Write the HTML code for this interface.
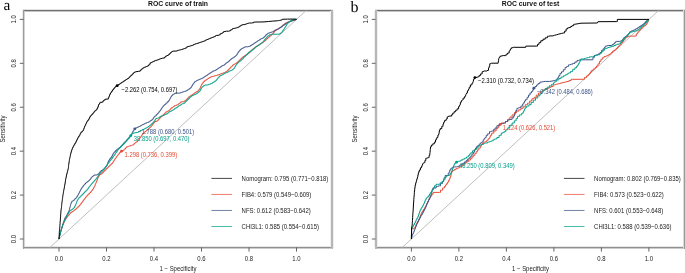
<!DOCTYPE html>
<html><head><meta charset="utf-8"><style>
html,body{margin:0;padding:0;background:#fff;}
body{width:685px;height:273px;overflow:hidden;}
svg{display:block;will-change:transform;}
.t6{font-family:"Liberation Sans",sans-serif;font-size:6.6px;fill:#222;stroke:none;}
.tb{font-family:"Liberation Sans",sans-serif;font-size:6.8px;font-weight:bold;fill:#111;}
.lab{text-rendering:geometricPrecision;font-family:"Liberation Serif",serif;font-size:15px;fill:#000;}
</style></head><body>
<svg width="685" height="273" viewBox="0 0 685 273">
<defs><clipPath id="clip0"><rect x="23.5" y="10.5" width="309.0" height="237.0"/></clipPath><clipPath id="clip352"><rect x="376.0" y="10.5" width="309.0" height="237.0"/></clipPath></defs>
<rect width="685" height="273" fill="#fff"/>
<text class="lab" x="3.6" y="10.3" style="font-size:15.3px">a</text>
<text class="lab" x="350.5" y="11.6" style="font-size:16px">b</text>
<rect x="23" y="9" width="310" height="1" fill="#e2e2e2"/>
<rect x="23" y="10" width="310" height="1" fill="#727272"/>
<rect x="24" y="11" width="308" height="1" fill="#c4c4c4"/>
<rect x="24" y="246" width="308" height="1" fill="#e6e6e6"/>
<rect x="23" y="247" width="310" height="1" fill="#909090"/>
<rect x="23" y="248" width="310" height="1" fill="#cccccc"/>
<rect x="22" y="10" width="1" height="238" fill="#ececec"/>
<rect x="23" y="10" width="1" height="239" fill="#9c9c9c"/>
<rect x="24" y="11" width="1" height="236" fill="#d4d4d4"/>
<rect x="330" y="11" width="1" height="236" fill="#f0f0f0"/>
<rect x="331" y="10" width="1" height="238" fill="#b6b6b6"/>
<rect x="332" y="10" width="1" height="239" fill="#b6b6b6"/>
<rect x="333" y="10" width="1" height="238" fill="#f0f0f0"/>
<line x1="44.75" y1="252.18" x2="310.75" y2="6.22" stroke="#BEBEBE" stroke-width="1" clip-path="url(#clip0)"/>
<polyline points="59.0,239.0 59.1,239.0 59.1,238.0 59.3,238.0 59.3,237.0 59.5,237.0 59.5,236.0 59.8,236.0 59.8,235.0 60.0,235.0 60.0,234.0 60.2,234.0 60.2,233.0 60.3,233.0 60.4,233.0 60.4,232.1 60.7,232.1 60.7,231.2 61.0,231.2 61.0,230.4 61.2,230.4 61.2,229.5 61.5,229.5 61.5,228.6 61.6,228.6 61.8,228.6 61.8,227.6 62.1,227.6 62.1,226.5 62.5,226.5 62.5,225.4 62.8,225.4 62.8,224.4 63.0,224.4 63.3,224.4 63.3,223.4 63.8,223.4 63.8,222.4 64.3,222.4 64.3,221.3 64.8,221.3 64.8,220.3 65.1,220.3 65.4,220.3 65.4,219.3 66.0,219.3 66.0,218.3 66.7,218.3 66.7,217.3 67.0,217.3 67.3,217.3 67.3,216.5 68.0,216.5 68.0,215.6 68.7,215.6 68.7,214.8 69.0,214.8 69.4,214.8 69.4,214.0 70.1,214.0 70.1,213.2 70.8,213.2 70.8,212.4 71.2,212.4 71.8,212.4 71.8,211.7 72.9,211.7 72.9,211.0 73.4,211.0 74.0,211.0 74.0,210.2 75.0,210.2 75.0,209.5 75.6,209.5 76.1,209.5 76.1,208.4 77.2,208.4 77.2,207.3 77.8,207.3 78.3,207.3 78.3,206.2 79.5,206.2 79.5,205.1 80.0,205.1 80.4,205.1 80.4,204.1 81.1,204.1 81.1,203.2 81.8,203.2 81.8,202.2 82.2,202.2 82.6,202.2 82.6,201.2 83.3,201.2 83.3,200.2 84.0,200.2 84.0,199.2 84.4,199.2 84.8,199.2 84.8,198.2 85.5,198.2 85.5,197.3 86.2,197.3 86.2,196.3 86.6,196.3 87.1,196.3 87.1,195.2 88.2,195.2 88.2,194.1 88.8,194.1 89.3,194.1 89.3,193.0 90.5,193.0 90.5,191.9 91.0,191.9 91.4,191.9 91.4,190.9 92.1,190.9 92.1,190.0 92.8,190.0 92.8,189.0 93.2,189.0 93.4,189.0 93.4,188.1 93.9,188.1 93.9,187.2 94.3,187.2 94.3,186.4 94.8,186.4 94.8,185.5 95.0,185.5 95.2,185.5 95.2,184.6 95.5,184.6 95.5,183.7 95.9,183.7 95.9,182.7 96.3,182.7 96.3,181.8 96.6,181.8 96.6,180.9 96.8,180.9 97.0,180.9 97.0,180.0 97.4,180.0 97.4,179.1 97.7,179.1 97.7,178.1 98.1,178.1 98.1,177.2 98.3,177.2 98.7,177.2 98.7,176.1 99.3,176.1 99.3,175.0 99.7,175.0 100.2,175.0 100.2,174.3 101.4,174.3 101.4,173.6 101.9,173.6 102.5,173.6 102.5,172.5 103.5,172.5 103.5,171.4 104.1,171.4 104.6,171.4 104.6,170.3 105.8,170.3 105.8,169.2 106.3,169.2 106.8,169.2 106.8,168.1 108.0,168.1 108.0,167.0 108.5,167.0 109.0,167.0 109.0,165.9 110.2,165.9 110.2,164.8 110.7,164.8 111.2,164.8 111.2,163.7 112.4,163.7 112.4,162.6 112.9,162.6 113.2,162.6 113.2,161.6 113.8,161.6 113.8,160.5 114.4,160.5 114.4,159.5 114.7,159.5 115.0,159.5 115.0,158.6 115.8,158.6 115.8,157.6 116.1,157.6 116.4,157.6 116.4,156.6 117.2,156.6 117.2,155.6 117.5,155.6 117.8,155.6 117.8,154.7 118.6,154.7 118.6,153.8 118.9,153.8 119.6,153.8 119.6,152.4 120.2,152.4 120.9,152.4 120.9,151.3 121.6,151.3 122.3,151.3 122.3,150.6 123.0,150.6 123.7,150.6 123.7,149.7 124.4,149.7 124.7,149.7 124.7,148.8 125.4,148.8 125.4,147.8 125.7,147.8 126.4,147.8 126.4,146.9 127.1,146.9 127.8,146.9 127.8,146.4 128.5,146.4 129.9,146.0 130.6,146.0 130.6,145.5 131.2,145.5 132.6,145.1 133.3,145.1 133.3,144.2 134.0,144.2 134.3,144.2 134.3,143.4 135.1,143.4 135.1,142.6 135.4,142.6 136.1,142.6 136.1,141.8 136.8,141.8 137.5,141.8 137.5,140.6 138.2,140.6 138.5,140.6 138.5,139.6 139.2,139.6 139.2,138.6 139.5,138.6 139.8,138.6 139.8,137.7 140.5,137.7 140.5,136.8 140.8,136.8 141.2,136.8 141.2,135.8 141.8,135.8 141.8,134.8 142.2,134.8 142.5,134.8 142.5,134.0 143.2,134.0 143.2,133.2 143.6,133.2 144.2,133.2 144.2,132.0 144.9,132.0 145.3,132.0 145.3,131.4 146.0,131.4 146.0,130.8 146.4,130.8 147.1,130.8 147.1,129.8 147.8,129.8 148.2,129.8 148.2,129.0 148.9,129.0 148.9,128.2 149.3,128.2 149.7,128.2 149.7,127.5 150.4,127.5 150.4,126.8 150.8,126.8 151.2,126.8 151.2,126.0 151.9,126.0 151.9,125.2 152.3,125.2 152.6,125.2 152.6,124.3 153.3,124.3 153.3,123.5 153.6,123.5 153.9,123.5 153.9,122.5 154.7,122.5 154.7,121.5 155.0,121.5 156.0,121.5 156.7,121.5 156.7,120.8 157.4,120.8 158.1,120.8 158.1,119.5 158.7,119.5 159.2,119.5 159.2,118.2 159.7,118.2 160.3,118.2 160.3,116.9 161.0,116.9 161.7,116.9 161.7,115.8 162.4,115.8 163.1,115.8 163.1,114.4 163.8,114.4 164.4,114.4 164.4,113.2 165.1,113.2 165.8,113.2 165.8,111.8 166.5,111.8 167.2,111.8 167.2,111.2 167.9,111.2 168.6,111.2 168.6,110.5 169.3,110.5 169.7,110.5 169.7,109.5 170.6,109.5 170.6,108.4 171.0,108.4 171.6,108.4 171.6,107.7 172.6,107.7 172.6,107.0 173.2,107.0 173.8,107.0 173.8,106.2 174.8,106.2 174.8,105.5 175.4,105.5 175.9,105.5 175.9,105.2 177.1,105.2 177.1,104.8 177.6,104.8 178.2,104.8 178.2,104.0 179.2,104.0 179.2,103.3 179.8,103.3 180.2,103.3 180.2,102.5 180.8,102.5 180.8,101.8 181.2,101.8 183.4,101.8 183.9,101.8 183.9,101.1 185.1,101.1 185.1,100.4 185.6,100.4 186.0,100.4 186.0,99.7 186.7,99.7 186.7,98.9 187.1,98.9 187.7,98.9 187.7,97.8 188.8,97.8 188.8,96.7 189.3,96.7 189.9,96.7 189.9,96.0 190.9,96.0 190.9,95.3 191.5,95.3 192.1,95.3 192.1,94.5 193.1,94.5 193.1,93.8 193.7,93.8 194.2,93.8 194.2,93.0 195.3,93.0 195.3,92.3 195.9,92.3 196.4,92.3 196.4,91.6 197.6,91.6 197.6,90.9 198.1,90.9 198.4,90.9 198.4,90.1 199.1,90.1 199.1,89.3 199.7,89.3 199.7,88.5 200.0,88.5 200.2,88.5 200.2,87.6 200.6,87.6 200.6,86.8 200.9,86.8 200.9,85.9 201.3,85.9 201.3,85.0 201.5,85.0 201.8,85.0 201.8,83.9 202.6,83.9 202.6,82.8 202.9,82.8 203.4,82.8 203.4,81.7 204.6,81.7 204.6,80.6 205.1,80.6 205.7,80.6 205.7,79.9 206.8,79.9 206.8,79.2 207.3,79.2 207.9,79.2 207.9,78.5 208.9,78.5 208.9,77.7 209.5,77.7 210.1,77.7 210.1,77.2 211.1,77.2 211.1,76.7 211.7,76.7 212.2,76.7 212.2,76.5 213.3,76.5 213.3,76.2 213.9,76.2 214.4,76.2 214.4,75.8 215.6,75.8 215.6,75.5 216.1,75.5 216.7,75.5 216.7,75.2 217.8,75.2 217.8,74.8 218.3,74.8 218.9,74.8 218.9,74.4 219.9,74.4 219.9,74.0 220.5,74.0 221.1,74.0 221.1,73.7 222.1,73.7 222.1,73.3 222.7,73.3 223.2,73.3 223.2,72.9 224.3,72.9 224.3,72.6 224.9,72.6 225.4,72.6 225.4,71.8 226.6,71.8 226.6,71.1 227.1,71.1 227.7,71.1 227.7,70.0 228.8,70.0 228.8,68.9 229.3,68.9 229.9,68.9 229.9,67.8 230.9,67.8 230.9,66.7 231.5,66.7 232.1,66.7 232.1,65.6 233.1,65.6 233.1,64.5 233.7,64.5 234.3,64.5 234.3,64.0 235.4,64.0 235.4,63.5 236.0,63.5 236.6,63.5 236.6,62.6 237.6,62.6 237.6,61.7 238.2,61.7 238.8,61.7 238.8,60.6 239.8,60.6 239.8,59.5 240.4,59.5 240.9,59.5 240.9,58.4 242.1,58.4 242.1,57.3 242.6,57.3 243.2,57.3 243.2,56.5 244.2,56.5 244.2,55.8 244.8,55.8 245.4,55.8 245.4,55.1 246.4,55.1 246.4,54.4 247.0,54.4 247.6,54.4 247.6,53.6 248.6,53.6 248.6,52.9 249.2,52.9 249.8,52.9 249.8,51.8 250.8,51.8 250.8,50.7 251.4,50.7 251.9,50.7 251.9,49.6 253.1,49.6 253.1,48.5 253.6,48.5 254.2,48.5 254.2,47.8 255.2,47.8 255.2,47.0 255.8,47.0 256.4,47.0 256.4,46.3 257.4,46.3 257.4,45.6 258.0,45.6 258.6,45.6 258.6,44.9 259.6,44.9 259.6,44.1 260.2,44.1 260.8,44.1 260.8,43.4 261.8,43.4 261.8,42.7 262.4,42.7 262.9,42.7 262.9,42.0 263.8,42.0 263.8,41.4 264.3,41.4 264.8,41.4 264.8,40.4 265.9,40.4 265.9,39.4 266.4,39.4 266.9,39.4 266.9,38.5 268.1,38.5 268.1,37.5 268.6,37.5 269.2,37.5 269.2,36.5 270.2,36.5 270.2,35.6 270.8,35.6 271.3,35.6 271.3,34.7 272.3,34.7 272.3,33.8 272.8,33.8 273.2,33.8 273.2,32.9 273.9,32.9 273.9,31.9 274.6,31.9 274.6,31.0 275.0,31.0 275.6,31.0 275.6,30.3 276.6,30.3 276.6,29.6 277.2,29.6 277.8,29.6 277.8,28.9 278.8,28.9 278.8,28.1 279.4,28.1 279.9,28.1 279.9,27.4 281.1,27.4 281.1,26.7 281.6,26.7 282.2,26.7 282.2,25.6 283.2,25.6 283.2,24.5 283.8,24.5 284.4,24.5 284.4,23.8 285.4,23.8 285.4,23.0 286.0,23.0 286.6,23.0 286.6,22.5 287.6,22.5 287.6,22.0 288.2,22.0 288.8,22.0 288.8,21.6 289.8,21.6 289.8,21.1 290.4,21.1 290.9,21.1 290.9,20.8 292.1,20.8 292.1,20.5 292.6,20.5 294.8,20.1 295.2,20.1 295.2,19.8 296.1,19.8 296.1,19.4 296.5,19.4" fill="none" stroke="#E64B35" stroke-width="1.0" stroke-linejoin="round" clip-path="url(#clip0)"/>
<polyline points="59.0,239.0 59.1,239.0 59.1,238.0 59.3,238.0 59.3,237.0 59.5,237.0 59.5,236.0 59.8,236.0 59.8,235.0 60.0,235.0 60.0,234.0 60.2,234.0 60.2,233.0 60.3,233.0 60.4,233.0 60.4,232.1 60.7,232.1 60.7,231.2 61.0,231.2 61.0,230.4 61.2,230.4 61.2,229.5 61.5,229.5 61.5,228.6 61.6,228.6 61.8,228.6 61.8,227.6 62.1,227.6 62.1,226.6 62.4,226.6 62.4,225.6 62.7,225.6 62.7,224.7 63.0,224.7 63.0,223.7 63.2,223.7 63.2,222.7 63.6,222.7 63.6,221.7 63.7,221.7 63.9,221.7 63.9,220.7 64.2,220.7 64.2,219.8 64.6,219.8 64.6,218.8 64.9,218.8 64.9,217.8 65.1,217.8 65.4,217.8 65.4,217.1 66.0,217.1 66.0,216.3 66.3,216.3 66.5,216.3 66.5,215.5 66.9,215.5 66.9,214.7 67.3,214.7 67.3,213.9 67.5,213.9 67.8,213.9 67.8,212.9 68.2,212.9 68.2,212.0 68.8,212.0 68.8,211.0 69.0,211.0 69.1,211.0 69.1,210.1 69.4,210.1 69.4,209.2 69.6,209.2 69.6,208.2 69.9,208.2 69.9,207.3 70.0,207.3 70.1,207.3 70.1,206.4 70.3,206.4 70.3,205.4 70.6,205.4 70.6,204.5 70.8,204.5 70.8,203.6 70.9,203.6 71.2,203.6 71.2,202.5 71.7,202.5 71.7,201.4 71.9,201.4 72.3,201.4 72.3,201.1 73.0,201.1 73.0,200.7 73.4,200.7 73.8,200.7 73.8,199.9 74.5,199.9 74.5,199.2 74.8,199.2 75.2,199.2 75.2,198.5 75.9,198.5 75.9,197.8 76.3,197.8 76.7,197.8 76.7,196.7 77.4,196.7 77.4,195.6 77.8,195.6 78.0,195.6 78.0,194.6 78.5,194.6 78.5,193.7 79.0,193.7 79.0,192.7 79.2,192.7 79.5,192.7 79.5,191.7 80.0,191.7 80.0,190.7 80.5,190.7 80.5,189.7 80.7,189.7 81.1,189.7 81.1,188.6 81.8,188.6 81.8,187.5 82.2,187.5 82.6,187.5 82.6,186.5 83.3,186.5 83.3,185.6 84.0,185.6 84.0,184.6 84.4,184.6 85.0,184.6 85.0,183.5 86.0,183.5 86.0,182.4 86.6,182.4 87.1,182.4 87.1,181.7 88.2,181.7 88.2,180.9 88.8,180.9 89.2,180.9 89.2,180.2 89.8,180.2 89.8,179.4 90.2,179.4 90.6,179.4 90.6,178.4 91.3,178.4 91.3,177.5 92.0,177.5 92.0,176.5 92.4,176.5 93.0,176.5 93.0,175.8 94.0,175.8 94.0,175.0 94.6,175.0 96.8,175.0 97.3,175.0 97.3,174.3 98.5,174.3 98.5,173.6 99.0,173.6 99.4,173.6 99.4,172.5 100.1,172.5 100.1,171.4 100.5,171.4 101.0,171.4 101.0,170.7 102.2,170.7 102.2,169.9 102.7,169.9 103.2,169.9 103.2,169.2 104.3,169.2 104.3,168.4 104.8,168.4 105.2,168.4 105.2,167.4 105.9,167.4 105.9,166.5 106.6,166.5 106.6,165.5 107.0,165.5 107.2,165.5 107.2,164.6 107.5,164.6 107.5,163.7 107.8,163.7 107.8,162.9 108.0,162.9 108.0,162.0 108.3,162.0 108.3,161.1 108.5,161.1 108.9,161.1 108.9,160.0 109.6,160.0 109.6,158.9 110.0,158.9 110.4,158.9 110.4,157.9 111.1,157.9 111.1,157.0 111.8,157.0 111.8,156.0 112.2,156.0 112.4,156.0 112.4,155.1 112.8,155.1 112.8,154.2 113.2,154.2 113.2,153.3 113.4,153.3 114.1,153.3 114.1,151.9 114.7,151.9 115.4,151.9 115.4,150.6 116.1,150.6 116.8,150.6 116.8,149.2 117.5,149.2 118.2,149.2 118.2,148.3 118.9,148.3 119.6,148.3 119.6,147.4 120.2,147.4 120.9,147.4 120.9,146.0 121.6,146.0 121.9,146.0 121.9,145.1 122.7,145.1 122.7,144.2 123.0,144.2 123.7,144.2 123.7,142.8 124.4,142.8 125.1,142.8 125.1,141.4 125.7,141.4 126.4,141.4 126.4,140.0 127.1,140.0 127.4,140.0 127.4,139.1 128.2,139.1 128.2,138.2 128.5,138.2 129.2,138.2 129.2,136.8 129.9,136.8 130.6,136.8 130.6,135.5 131.2,135.5 131.4,135.5 131.4,134.5 131.9,134.5 131.9,133.4 132.3,133.4 132.3,132.4 132.8,132.4 132.8,131.4 133.0,131.4 133.3,131.4 133.3,130.5 133.9,130.5 133.9,129.6 134.5,129.6 134.5,128.7 134.8,128.7 135.3,128.7 135.3,128.2 136.2,128.2 136.2,127.8 136.7,127.8 137.1,127.8 137.1,127.3 138.1,127.3 138.1,126.9 138.5,126.9 138.9,126.9 138.9,126.5 139.9,126.5 139.9,126.0 140.3,126.0 140.8,126.0 140.8,125.5 141.7,125.5 141.7,125.0 142.2,125.0 142.6,125.0 142.6,124.5 143.6,124.5 143.6,124.1 144.0,124.1 144.4,124.1 144.4,123.7 145.4,123.7 145.4,123.2 145.8,123.2 146.3,123.2 146.3,122.8 147.2,122.8 147.2,122.5 147.7,122.5 148.1,122.5 148.1,122.2 148.9,122.2 148.9,121.8 149.3,121.8 149.7,121.8 149.7,121.2 150.5,121.2 150.5,120.5 150.9,120.5 151.6,120.5 151.6,119.8 152.2,119.8 152.7,119.8 152.7,118.8 153.2,118.8 153.4,118.8 153.4,117.8 153.9,117.8 153.9,116.9 154.2,116.9 154.8,116.9 154.8,116.0 155.5,116.0 156.2,116.0 156.2,114.7 156.9,114.7 157.2,114.7 157.2,113.8 158.0,113.8 158.0,112.8 158.3,112.8 159.0,112.8 159.0,111.4 159.7,111.4 160.0,111.4 160.0,110.5 160.7,110.5 160.7,109.6 161.0,109.6 161.3,109.6 161.3,108.4 162.1,108.4 162.1,107.3 162.4,107.3 162.8,107.3 162.8,106.4 163.5,106.4 163.5,105.5 163.8,105.5 164.4,105.5 164.4,104.6 165.1,104.6 165.8,104.6 165.8,103.2 166.5,103.2 167.2,103.2 167.2,101.8 167.9,101.8 168.6,101.8 168.6,100.5 169.3,100.5 169.5,100.5 169.5,99.5 169.9,99.5 169.9,98.6 170.4,98.6 170.4,97.7 170.8,97.7 170.8,96.7 171.0,96.7 171.6,96.7 171.6,95.6 172.6,95.6 172.6,94.5 173.2,94.5 173.8,94.5 173.8,93.8 174.8,93.8 174.8,93.1 175.4,93.1 179.8,93.1 180.4,93.1 180.4,92.7 181.4,92.7 181.4,92.3 182.0,92.3 182.6,92.3 182.6,91.9 183.6,91.9 183.6,91.6 184.2,91.6 184.8,91.6 184.8,91.2 185.8,91.2 185.8,90.9 186.4,90.9 186.9,90.9 186.9,90.2 188.1,90.2 188.1,89.4 188.6,89.4 189.2,89.4 189.2,88.7 190.2,88.7 190.2,87.9 190.8,87.9 191.2,87.9 191.2,86.8 191.8,86.8 191.8,85.7 192.2,85.7 192.5,85.7 192.5,84.6 193.2,84.6 193.2,83.5 193.6,83.5 194.0,83.5 194.0,82.5 194.8,82.5 194.8,81.5 195.2,81.5 195.8,81.5 195.8,81.0 196.8,81.0 196.8,80.4 197.4,80.4 197.8,80.4 197.8,80.0 198.7,80.0 198.7,79.6 199.6,79.6 199.6,79.2 200.0,79.2 200.6,79.2 200.6,78.8 201.6,78.8 201.6,78.4 202.2,78.4 202.8,78.4 202.8,77.7 203.8,77.7 203.8,77.0 204.4,77.0 204.9,77.0 204.9,76.2 206.1,76.2 206.1,75.5 206.6,75.5 207.2,75.5 207.2,74.8 208.2,74.8 208.2,74.0 208.8,74.0 209.4,74.0 209.4,73.3 210.4,73.3 210.4,72.6 211.0,72.6 211.6,72.6 211.6,71.8 212.6,71.8 212.6,71.1 213.2,71.1 213.8,71.1 213.8,70.8 214.8,70.8 214.8,70.4 215.4,70.4 215.9,70.4 215.9,69.7 217.1,69.7 217.1,68.9 217.6,68.9 218.2,68.9 218.2,68.2 219.2,68.2 219.2,67.5 219.8,67.5 220.4,67.5 220.4,66.8 221.4,66.8 221.4,66.0 222.0,66.0 222.6,66.0 222.6,65.5 223.6,65.5 223.6,65.0 224.2,65.0 224.8,65.0 224.8,64.0 225.8,64.0 225.8,63.1 226.4,63.1 226.9,63.1 226.9,62.4 228.1,62.4 228.1,61.6 228.6,61.6 229.2,61.6 229.2,60.5 230.2,60.5 230.2,59.4 230.8,59.4 231.4,59.4 231.4,58.6 232.4,58.6 232.4,57.9 233.0,57.9 233.6,57.9 233.6,57.2 234.6,57.2 234.6,56.5 235.2,56.5 235.5,56.5 235.5,55.8 236.2,55.8 236.2,55.0 236.6,55.0 237.1,55.0 237.1,53.6 237.5,53.6 237.8,53.6 237.8,52.5 238.6,52.5 238.6,51.4 238.9,51.4 239.4,51.4 239.4,50.3 240.6,50.3 240.6,49.2 241.1,49.2 241.7,49.2 241.7,48.5 242.8,48.5 242.8,47.8 243.3,47.8 243.9,47.8 243.9,47.3 244.9,47.3 244.9,46.8 245.5,46.8 247.7,46.8 248.2,46.8 248.2,46.5 249.3,46.5 249.3,46.3 249.9,46.3 250.4,46.3 250.4,45.5 251.6,45.5 251.6,44.8 252.1,44.8 252.7,44.8 252.7,44.1 253.8,44.1 253.8,43.4 254.3,43.4 254.9,43.4 254.9,42.6 255.9,42.6 255.9,41.9 256.5,41.9 257.1,41.9 257.1,41.2 258.1,41.2 258.1,40.5 258.7,40.5 259.2,40.5 259.2,39.8 260.3,39.8 260.3,39.0 260.9,39.0 261.4,39.0 261.4,38.5 262.6,38.5 262.6,38.0 263.1,38.0 263.7,38.0 263.7,37.0 264.8,37.0 264.8,36.0 265.3,36.0 265.8,36.0 265.8,34.7 266.2,34.7 266.8,34.7 266.8,34.0 267.8,34.0 267.8,33.2 268.4,33.2 268.9,33.2 268.9,32.9 270.1,32.9 270.1,32.5 270.6,32.5 271.2,32.5 271.2,32.1 272.2,32.1 272.2,31.8 272.8,31.8 273.4,31.8 273.4,31.1 274.4,31.1 274.4,30.3 275.0,30.3 275.6,30.3 275.6,29.8 276.6,29.8 276.6,29.3 277.2,29.3 277.8,29.3 277.8,28.9 278.8,28.9 278.8,28.4 279.4,28.4 279.9,28.4 279.9,27.5 281.1,27.5 281.1,26.7 281.6,26.7 282.2,26.7 282.2,25.9 283.2,25.9 283.2,25.2 283.8,25.2 284.4,25.2 284.4,24.4 285.4,24.4 285.4,23.7 286.0,23.7 286.6,23.7 286.6,23.0 287.6,23.0 287.6,22.3 288.2,22.3 288.8,22.3 288.8,21.9 289.8,21.9 289.8,21.5 290.4,21.5 290.9,21.5 290.9,21.1 292.1,21.1 292.1,20.8 292.6,20.8 293.2,20.8 293.2,20.5 294.2,20.5 294.2,20.1 294.8,20.1 295.2,20.1 295.2,19.8 296.1,19.8 296.1,19.4 296.5,19.4" fill="none" stroke="#3C5488" stroke-width="1.0" stroke-linejoin="round" clip-path="url(#clip0)"/>
<polyline points="59.0,239.0 59.1,239.0 59.1,238.0 59.3,238.0 59.3,237.0 59.5,237.0 59.5,236.0 59.8,236.0 59.8,235.0 60.0,235.0 60.0,234.0 60.2,234.0 60.2,233.0 60.3,233.0 60.4,233.0 60.4,232.1 60.7,232.1 60.7,231.2 61.0,231.2 61.0,230.4 61.2,230.4 61.2,229.5 61.5,229.5 61.5,228.6 61.6,228.6 61.8,228.6 61.8,227.6 62.1,227.6 62.1,226.5 62.5,226.5 62.5,225.5 62.8,225.5 62.8,224.5 63.2,224.5 63.2,223.4 63.5,223.4 63.5,222.4 63.7,222.4 64.0,222.4 64.0,221.3 64.5,221.3 64.5,220.3 65.0,220.3 65.0,219.2 65.5,219.2 65.5,218.2 65.8,218.2 66.0,218.2 66.0,217.3 66.4,217.3 66.4,216.5 66.9,216.5 66.9,215.7 67.3,215.7 67.3,214.8 67.5,214.8 67.8,214.8 67.8,213.9 68.3,213.9 68.3,213.0 68.9,213.0 68.9,212.1 69.4,212.1 69.4,211.2 69.7,211.2 70.2,211.2 70.2,210.3 71.4,210.3 71.4,209.5 71.9,209.5 72.5,209.5 72.5,208.8 73.5,208.8 73.5,208.0 74.1,208.0 74.3,208.0 74.3,207.0 74.8,207.0 74.8,206.1 75.3,206.1 75.3,205.1 75.6,205.1 75.8,205.1 75.8,204.2 76.1,204.2 76.1,203.2 76.5,203.2 76.5,202.3 76.8,202.3 76.8,201.4 77.0,201.4 77.2,201.4 77.2,200.4 77.8,200.4 77.8,199.5 78.2,199.5 78.2,198.5 78.5,198.5 79.0,198.5 79.0,197.4 80.2,197.4 80.2,196.3 80.7,196.3 81.2,196.3 81.2,195.2 82.4,195.2 82.4,194.1 82.9,194.1 83.5,194.1 83.5,193.0 84.5,193.0 84.5,191.9 85.1,191.9 85.6,191.9 85.6,190.8 86.8,190.8 86.8,189.7 87.3,189.7 87.7,189.7 87.7,188.7 88.4,188.7 88.4,187.6 89.1,187.6 89.1,186.6 89.5,186.6 89.8,186.6 89.8,185.8 90.5,185.8 90.5,185.0 91.2,185.0 91.2,184.2 91.5,184.2 91.8,184.2 91.8,183.4 92.5,183.4 92.5,182.6 93.2,182.6 93.2,181.8 93.5,181.8 94.0,181.8 94.0,180.7 95.0,180.7 95.0,179.6 95.5,179.6 95.8,179.6 95.8,178.8 96.5,178.8 96.5,178.0 97.2,178.0 97.2,177.2 97.5,177.2 97.8,177.2 97.8,176.4 98.2,176.4 98.2,175.6 98.8,175.6 98.8,174.8 99.0,174.8 99.4,174.8 99.4,174.0 100.1,174.0 100.1,173.1 100.8,173.1 100.8,172.3 101.2,172.3 101.6,172.3 101.6,171.5 102.3,171.5 102.3,170.7 103.0,170.7 103.0,169.9 103.4,169.9 103.8,169.9 103.8,168.9 104.5,168.9 104.5,168.0 105.2,168.0 105.2,167.0 105.6,167.0 106.0,167.0 106.0,165.9 106.7,165.9 106.7,164.9 107.4,164.9 107.4,163.8 107.8,163.8 108.2,163.8 108.2,162.9 108.9,162.9 108.9,162.0 109.6,162.0 109.6,161.1 110.0,161.1 110.3,161.1 110.3,160.2 111.0,160.2 111.0,159.3 111.7,159.3 111.7,158.4 112.0,158.4 112.5,158.4 112.5,157.2 113.3,157.2 113.3,156.1 113.8,156.1 114.1,156.1 114.1,155.2 114.8,155.2 114.8,154.2 115.4,154.2 115.4,153.3 115.7,153.3 116.0,153.3 116.0,152.4 116.7,152.4 116.7,151.5 117.0,151.5 117.3,151.5 117.3,150.3 118.1,150.3 118.1,149.2 118.4,149.2 119.1,149.2 119.1,147.8 119.8,147.8 120.5,147.8 120.5,146.4 121.2,146.4 121.8,146.4 121.8,145.1 122.5,145.1 123.2,145.1 123.2,143.7 123.9,143.7 124.6,143.7 124.6,142.3 125.3,142.3 125.7,142.3 125.7,141.4 126.3,141.4 126.3,140.5 126.7,140.5 127.3,140.5 127.3,139.1 128.0,139.1 128.7,139.1 128.7,137.7 129.4,137.7 129.7,137.7 129.7,136.6 130.3,136.6 130.3,135.4 130.6,135.4 131.1,135.4 131.1,134.4 132.0,134.4 132.0,133.4 132.5,133.4 133.1,133.4 133.1,133.1 134.2,133.1 134.2,132.8 134.8,132.8 137.6,132.4 138.1,132.4 138.1,131.9 138.9,131.9 138.9,131.4 139.4,131.4 140.1,131.4 140.1,130.5 140.8,130.5 142.2,130.1 142.6,130.1 142.6,129.6 143.6,129.6 143.6,129.2 144.0,129.2 144.4,129.2 144.4,128.7 145.4,128.7 145.4,128.2 145.8,128.2 146.3,128.2 146.3,127.8 147.2,127.8 147.2,127.3 147.7,127.3 148.1,127.3 148.1,126.5 149.1,126.5 149.1,125.8 149.5,125.8 149.9,125.8 149.9,125.1 150.9,125.1 150.9,124.4 151.3,124.4 151.8,124.4 151.8,123.5 152.7,123.5 152.7,122.6 153.1,122.6 153.8,122.6 153.8,121.2 154.5,121.2 154.8,121.2 154.8,120.3 155.2,120.3 155.2,119.4 155.8,119.4 155.8,118.5 156.0,118.5 157.4,118.3 158.7,117.9 159.4,117.9 159.4,116.9 160.1,116.9 160.8,116.9 160.8,116.0 161.5,116.0 162.9,115.6 163.6,115.6 163.6,115.1 164.2,115.1 164.9,115.1 164.9,114.5 165.6,114.5 166.3,114.5 166.3,113.8 167.0,113.8 167.7,113.8 167.7,112.8 168.4,112.8 169.1,112.8 169.1,111.6 169.7,111.6 171.0,111.2 171.6,111.2 171.6,110.6 172.6,110.6 172.6,109.9 173.2,109.9 173.8,109.9 173.8,109.2 174.8,109.2 174.8,108.4 175.4,108.4 175.9,108.4 175.9,107.7 177.1,107.7 177.1,107.0 177.6,107.0 178.2,107.0 178.2,106.2 179.2,106.2 179.2,105.5 179.8,105.5 180.4,105.5 180.4,104.8 181.4,104.8 181.4,104.0 182.0,104.0 182.6,104.0 182.6,103.7 183.6,103.7 183.6,103.3 184.2,103.3 184.8,103.3 184.8,102.2 185.8,102.2 185.8,101.1 186.4,101.1 186.9,101.1 186.9,100.0 188.1,100.0 188.1,98.9 188.6,98.9 189.2,98.9 189.2,97.8 190.2,97.8 190.2,96.7 190.8,96.7 191.4,96.7 191.4,96.0 192.4,96.0 192.4,95.3 193.0,95.3 193.6,95.3 193.6,94.9 194.6,94.9 194.6,94.5 195.2,94.5 195.8,94.5 195.8,93.8 196.8,93.8 196.8,93.1 197.4,93.1 197.8,93.1 197.8,92.4 198.7,92.4 198.7,91.7 199.6,91.7 199.6,91.0 200.0,91.0 200.2,91.0 200.2,90.0 200.8,90.0 200.8,89.0 201.2,89.0 201.2,88.0 201.5,88.0 201.8,88.0 201.8,87.2 202.6,87.2 202.6,86.5 202.9,86.5 203.4,86.5 203.4,85.8 204.6,85.8 204.6,85.0 205.1,85.0 207.3,85.0 207.9,85.0 207.9,84.7 208.9,84.7 208.9,84.3 209.5,84.3 210.1,84.3 210.1,83.9 211.1,83.9 211.1,83.6 211.7,83.6 212.2,83.6 212.2,82.8 213.3,82.8 213.3,82.1 213.9,82.1 214.4,82.1 214.4,81.3 215.6,81.3 215.6,80.6 216.1,80.6 216.5,80.6 216.5,79.6 217.2,79.6 217.2,78.7 217.9,78.7 217.9,77.7 218.3,77.7 218.9,77.7 218.9,76.6 219.9,76.6 219.9,75.5 220.5,75.5 221.1,75.5 221.1,75.2 222.1,75.2 222.1,74.8 222.7,74.8 223.2,74.8 223.2,74.0 224.3,74.0 224.3,73.3 224.9,73.3 225.4,73.3 225.4,72.9 226.6,72.9 226.6,72.6 227.1,72.6 227.7,72.6 227.7,71.8 228.8,71.8 228.8,71.1 229.3,71.1 229.9,71.1 229.9,70.8 230.9,70.8 230.9,70.4 231.5,70.4 232.1,70.4 232.1,69.7 233.1,69.7 233.1,68.9 233.7,68.9 234.1,68.9 234.1,67.8 234.8,67.8 234.8,66.7 235.2,66.7 235.5,66.7 235.5,65.6 236.2,65.6 236.2,64.5 236.6,64.5 237.0,64.5 237.0,63.5 237.8,63.5 237.8,62.4 238.2,62.4 238.8,62.4 238.8,61.7 239.8,61.7 239.8,61.0 240.4,61.0 240.9,61.0 240.9,59.9 242.1,59.9 242.1,58.8 242.6,58.8 243.2,58.8 243.2,57.7 244.2,57.7 244.2,56.6 244.8,56.6 245.4,56.6 245.4,55.5 246.4,55.5 246.4,54.4 247.0,54.4 247.6,54.4 247.6,53.3 248.6,53.3 248.6,52.2 249.2,52.2 249.8,52.2 249.8,51.5 250.8,51.5 250.8,50.7 251.4,50.7 251.9,50.7 251.9,50.0 253.1,50.0 253.1,49.2 253.6,49.2 254.2,49.2 254.2,48.1 255.2,48.1 255.2,47.0 255.8,47.0 256.4,47.0 256.4,46.3 257.4,46.3 257.4,45.6 258.0,45.6 258.6,45.6 258.6,44.9 259.6,44.9 259.6,44.1 260.2,44.1 260.8,44.1 260.8,43.4 261.8,43.4 261.8,42.7 262.4,42.7 262.7,42.7 262.7,41.9 263.4,41.9 263.4,41.1 264.0,41.1 264.0,40.3 264.3,40.3 264.6,40.3 264.6,39.5 265.2,39.5 265.2,38.7 265.9,38.7 265.9,37.9 266.2,37.9 266.8,37.9 266.8,36.8 267.8,36.8 267.8,35.8 268.4,35.8 268.9,35.8 268.9,35.1 270.1,35.1 270.1,34.5 270.6,34.5 272.8,34.2 275.0,34.2 277.2,34.2 279.4,34.2 279.9,34.2 279.9,33.4 281.1,33.4 281.1,32.5 281.6,32.5 282.0,32.5 282.0,31.5 282.7,31.5 282.7,30.6 283.4,30.6 283.4,29.6 283.8,29.6 284.1,29.6 284.1,28.7 284.6,28.7 284.6,27.8 285.2,27.8 285.2,26.8 285.7,26.8 285.7,25.9 286.0,25.9 286.4,25.9 286.4,24.8 287.0,24.8 287.0,23.7 287.4,23.7 287.9,23.7 287.9,22.6 289.1,22.6 289.1,21.5 289.6,21.5 290.2,21.5 290.2,20.8 291.2,20.8 291.2,20.1 291.8,20.1 292.4,20.1 292.4,19.8 293.4,19.8 293.4,19.4 294.0,19.4 296.5,19.4" fill="none" stroke="#00A087" stroke-width="1.0" stroke-linejoin="round" clip-path="url(#clip0)"/>
<polyline points="59.0,239.0 59.3,232.8 59.3,232.8 59.3,231.8 59.4,231.8 59.4,230.8 59.5,230.8 59.5,229.8 59.6,229.8 59.6,228.8 59.7,228.8 59.7,227.8 59.8,227.8 59.8,226.8 59.9,226.8 59.9,225.8 59.9,225.8 59.9,225.8 59.9,224.8 60.0,224.8 60.0,223.8 60.1,223.8 60.1,222.8 60.1,222.8 60.1,221.9 60.2,221.9 60.2,220.9 60.3,220.9 60.3,219.9 60.4,219.9 60.4,218.9 60.4,218.9 60.4,218.9 60.4,217.9 60.5,217.9 60.5,216.9 60.6,216.9 60.6,215.9 60.6,215.9 60.6,214.9 60.7,214.9 60.7,213.9 60.8,213.9 60.8,212.9 60.9,212.9 60.9,211.9 60.9,211.9 60.9,211.9 60.9,211.0 61.0,211.0 61.0,210.1 61.1,210.1 61.1,209.3 61.2,209.3 61.2,208.4 61.4,208.4 61.4,207.5 61.4,207.5 61.5,207.5 61.5,206.5 61.6,206.5 61.6,205.5 61.7,205.5 61.7,204.4 61.8,204.4 61.8,203.4 61.9,203.4 61.9,202.4 62.0,202.4 62.0,201.4 62.1,201.4 62.2,201.4 62.2,200.4 62.3,200.4 62.3,199.5 62.4,199.5 62.4,198.5 62.6,198.5 62.6,197.5 62.7,197.5 62.7,196.6 62.8,196.6 62.8,195.6 62.9,195.6 63.0,195.6 63.0,194.6 63.1,194.6 63.1,193.6 63.3,193.6 63.3,192.6 63.5,192.6 63.5,191.7 63.6,191.7 63.6,190.7 63.8,190.7 63.8,189.7 63.9,189.7 64.0,189.7 64.0,188.7 64.2,188.7 64.2,187.8 64.4,187.8 64.4,186.8 64.5,186.8 64.5,185.8 64.7,185.8 64.7,184.9 64.9,184.9 64.9,183.9 65.0,183.9 65.1,183.9 65.1,182.9 65.2,182.9 65.2,181.9 65.4,181.9 65.4,180.8 65.5,180.8 65.5,179.8 65.6,179.8 65.7,179.8 65.7,178.8 65.9,178.8 65.9,177.9 66.1,177.9 66.1,176.9 66.3,176.9 66.3,175.9 66.4,175.9 66.5,175.9 66.5,175.0 66.7,175.0 66.7,174.1 67.0,174.1 67.0,173.1 67.2,173.1 67.2,172.2 67.3,172.2 67.4,172.2 67.4,171.3 67.7,171.3 67.7,170.3 67.9,170.3 67.9,169.4 68.2,169.4 68.2,168.5 68.3,168.5 68.3,168.5 68.3,167.6 68.5,167.6 68.5,166.7 68.5,166.7 68.5,165.7 68.6,165.7 68.6,164.8 68.8,164.8 68.8,163.9 68.8,163.9 68.9,163.9 68.9,163.0 69.0,163.0 69.0,162.1 69.2,162.1 69.2,161.2 69.3,161.2 69.3,160.3 69.4,160.3 69.4,159.4 69.5,159.4 69.6,159.4 69.6,158.5 69.8,158.5 69.8,157.6 70.0,157.6 70.0,156.6 70.2,156.6 70.2,155.7 70.4,155.7 70.4,154.8 70.5,154.8 70.6,154.8 70.6,153.9 70.8,153.9 70.8,152.9 71.1,152.9 71.1,152.0 71.3,152.0 71.3,151.1 71.4,151.1 71.6,151.1 71.6,150.2 72.0,150.2 72.0,149.2 72.3,149.2 72.3,148.3 72.5,148.3 72.7,148.3 72.7,147.4 73.2,147.4 73.2,146.5 73.6,146.5 73.6,145.6 73.8,145.6 74.1,145.6 74.1,144.7 74.7,144.7 74.7,143.7 75.3,143.7 75.3,142.8 75.6,142.8 75.8,142.8 75.8,141.9 76.2,141.9 76.2,141.0 76.7,141.0 76.7,140.1 76.9,140.1 77.1,140.1 77.1,139.2 77.6,139.2 77.6,138.2 78.1,138.2 78.1,137.3 78.3,137.3 78.6,137.3 78.6,136.4 79.3,136.4 79.3,135.5 79.6,135.5 79.8,135.5 79.8,134.6 80.2,134.6 80.2,133.6 80.4,133.6 80.8,133.6 80.8,132.4 81.2,132.4 81.6,132.4 81.6,131.8 82.3,131.8 82.3,131.1 82.7,131.1 83.0,131.1 83.0,130.3 83.5,130.3 83.5,129.5 83.7,129.5 83.8,129.5 83.8,128.5 84.2,128.5 84.2,127.5 84.3,127.5 84.5,127.5 84.5,126.5 85.0,126.5 85.0,125.4 85.3,125.4 85.5,125.4 85.5,124.4 86.0,124.4 86.0,123.4 86.3,123.4 86.5,123.4 86.5,122.3 87.0,122.3 87.0,121.3 87.3,121.3 87.7,121.3 87.7,120.3 88.5,120.3 88.5,119.3 88.9,119.3 89.2,119.3 89.2,118.2 89.7,118.2 89.7,117.0 89.9,117.0 90.3,117.0 90.3,116.1 91.0,116.1 91.0,115.2 91.4,115.2 91.8,115.2 91.8,114.4 92.6,114.4 92.6,113.6 93.0,113.6 93.2,113.6 93.2,112.8 93.8,112.8 93.8,112.1 94.0,112.1 94.4,112.1 94.4,111.3 95.1,111.3 95.1,110.6 95.5,110.6 95.9,110.6 95.9,109.9 96.6,109.9 96.6,109.2 97.0,109.2 97.3,109.2 97.3,108.1 97.8,108.1 97.8,107.0 98.1,107.0 98.2,107.0 98.2,105.9 98.5,105.9 98.5,104.8 98.7,104.8 99.0,104.8 99.0,104.0 99.5,104.0 99.5,103.2 99.8,103.2 100.2,103.2 100.2,102.3 100.5,102.3 102.4,102.3 102.7,102.3 102.7,101.4 103.4,101.4 103.4,100.5 103.7,100.5 104.3,100.5 104.3,99.8 105.4,99.8 105.4,99.1 106.0,99.1 107.9,99.1 108.3,99.1 108.3,97.7 108.8,97.7 108.9,97.7 108.9,96.8 109.2,96.8 109.2,95.9 109.5,95.9 109.5,95.0 109.6,95.0 109.9,95.0 109.9,94.1 110.4,94.1 110.4,93.1 111.0,93.1 111.0,92.2 111.3,92.2 111.7,92.2 111.7,91.1 112.5,91.1 112.5,90.0 112.9,90.0 113.3,90.0 113.3,88.9 114.2,88.9 114.2,87.8 114.6,87.8 115.0,87.8 115.0,86.9 115.8,86.9 115.8,86.1 116.2,86.1 116.8,86.1 116.8,85.5 117.5,85.5 117.9,85.5 117.9,85.0 118.6,85.0 118.6,84.5 119.0,84.5 119.4,84.5 119.4,84.0 120.2,84.0 120.2,83.4 120.6,83.4 121.0,83.4 121.0,82.8 121.9,82.8 121.9,82.3 122.3,82.3 122.7,82.3 122.7,81.8 123.5,81.8 123.5,81.2 123.9,81.2 124.3,81.2 124.3,80.7 125.2,80.7 125.2,80.1 125.6,80.1 126.0,80.1 126.0,79.5 126.8,79.5 126.8,79.0 127.2,79.0 127.6,79.0 127.6,78.5 128.5,78.5 128.5,77.9 128.9,77.9 129.3,77.9 129.3,77.1 130.1,77.1 130.1,76.2 130.5,76.2 130.9,76.2 130.9,75.4 131.8,75.4 131.8,74.6 132.2,74.6 132.6,74.6 132.6,73.8 133.4,73.8 133.4,72.9 133.8,72.9 134.2,72.9 134.2,72.3 135.1,72.3 135.1,71.8 135.5,71.8 138.2,71.4 139.8,71.2 140.2,71.2 140.2,70.3 141.1,70.3 141.1,69.4 141.5,69.4 141.9,69.4 141.9,68.8 142.7,68.8 142.7,68.1 143.1,68.1 143.5,68.1 143.5,67.7 144.4,67.7 144.4,67.3 144.8,67.3 145.2,67.3 145.2,66.9 146.0,66.9 146.0,66.6 146.4,66.6 146.8,66.6 146.8,66.2 147.7,66.2 147.7,65.9 148.1,65.9 148.5,65.9 148.5,65.1 149.3,65.1 149.3,64.2 149.7,64.2 150.2,64.2 150.2,62.8 150.8,62.8 151.2,62.8 151.2,62.4 152.1,62.4 152.1,62.0 152.5,62.0 152.9,62.0 152.9,61.6 153.7,61.6 153.7,61.3 154.1,61.3 154.5,61.3 154.5,60.8 155.4,60.8 155.4,60.4 155.8,60.4 157.4,60.1 157.8,60.1 157.8,59.7 158.7,59.7 158.7,59.3 159.1,59.3 159.5,59.3 159.5,59.0 160.3,59.0 160.3,58.7 160.7,58.7 161.1,58.7 161.1,58.5 162.0,58.5 162.0,58.2 162.4,58.2 164.0,58.0 164.6,58.0 164.6,57.1 165.1,57.1 165.5,57.1 165.5,56.5 166.2,56.5 166.2,55.8 166.6,55.8 167.0,55.8 167.0,55.5 167.9,55.5 167.9,55.1 168.3,55.1 168.7,55.1 168.7,54.4 169.5,54.4 169.5,53.6 169.9,53.6 170.3,53.6 170.3,52.8 171.2,52.8 171.2,52.0 171.6,52.0 172.0,52.0 172.0,51.5 172.8,51.5 172.8,51.1 173.2,51.1 176.5,51.1 176.9,51.1 176.9,50.7 177.8,50.7 177.8,50.3 178.2,50.3 179.8,50.0 181.5,49.6 181.9,49.6 181.9,49.3 182.7,49.3 182.7,49.0 183.1,49.0 183.5,49.0 183.5,48.8 184.4,48.8 184.4,48.5 184.8,48.5 185.2,48.5 185.2,48.1 186.0,48.1 186.0,47.8 186.4,47.8 186.9,47.8 186.9,46.7 187.5,46.7 189.2,46.3 190.8,45.9 191.2,45.9 191.2,45.6 192.1,45.6 192.1,45.4 192.5,45.4 192.9,45.4 192.9,45.0 193.7,45.0 193.7,44.5 194.1,44.5 194.5,44.5 194.5,44.2 195.3,44.2 195.3,43.9 196.2,43.9 196.2,43.6 196.6,43.6 197.0,43.6 197.0,43.4 197.9,43.4 197.9,43.1 198.3,43.1 198.7,43.1 198.7,42.8 199.5,42.8 199.5,42.5 199.9,42.5 200.3,42.5 200.3,42.2 201.2,42.2 201.2,42.0 201.6,42.0 202.0,42.0 202.0,41.7 202.8,41.7 202.8,41.4 203.2,41.4 203.6,41.4 203.6,41.1 204.5,41.1 204.5,40.9 204.9,40.9 205.3,40.9 205.3,40.3 206.1,40.3 206.1,39.8 206.5,39.8 206.9,39.8 206.9,39.5 207.8,39.5 207.8,39.2 208.2,39.2 208.6,39.2 208.6,38.9 209.4,38.9 209.4,38.5 209.8,38.5 210.2,38.5 210.2,38.1 211.1,38.1 211.1,37.8 211.5,37.8 211.9,37.8 211.9,37.5 212.7,37.5 212.7,37.3 213.1,37.3 213.5,37.3 213.5,36.9 214.4,36.9 214.4,36.5 214.8,36.5 215.2,36.5 215.2,36.0 216.0,36.0 216.0,35.4 216.4,35.4 218.1,35.4 218.5,35.4 218.5,35.1 219.3,35.1 219.3,34.8 219.7,34.8 220.2,34.8 220.2,33.7 220.8,33.7 221.2,33.7 221.2,33.4 222.1,33.4 222.1,33.0 222.5,33.0 222.9,33.0 222.9,32.3 223.7,32.3 223.7,31.6 224.1,31.6 226.6,31.2 228.3,31.2 229.9,30.9 230.3,30.9 230.3,30.2 231.2,30.2 231.2,29.6 231.6,29.6 232.0,29.6 232.0,29.1 232.8,29.1 232.8,28.5 233.2,28.5 234.9,28.3 236.5,27.9 236.9,27.9 236.9,27.6 237.8,27.6 237.8,27.4 238.2,27.4 238.6,27.4 238.6,26.9 239.4,26.9 239.4,26.3 239.8,26.3 240.2,26.3 240.2,25.8 241.1,25.8 241.1,25.2 241.5,25.2 241.9,25.2 241.9,24.9 242.7,24.9 242.7,24.6 243.1,24.6 244.8,24.6 245.2,24.6 245.2,24.2 246.0,24.2 246.0,23.9 246.4,23.9 246.8,23.9 246.8,23.6 247.7,23.6 247.7,23.3 248.1,23.3 249.7,23.0 251.4,23.0 253.0,22.8 253.6,22.8 253.6,22.1 254.1,22.1 257.0,22.0 260.0,22.0 264.0,21.9 268.4,21.5 272.8,21.1 277.2,20.8 277.6,20.8 277.6,20.7 278.5,20.7 278.5,20.5 279.4,20.5 279.4,20.4 280.3,20.4 280.3,20.2 281.2,20.2 281.2,20.1 281.6,20.1 282.0,20.1 282.0,19.3 282.3,19.3 287.4,19.1 296.5,19.1" fill="none" stroke="#000" stroke-width="1.0" stroke-linejoin="round" clip-path="url(#clip0)"/>
<circle cx="117.2" cy="85.7" r="1.4" fill="#000"/>
<circle cx="134.8" cy="128.8" r="1.4" fill="#3C5488"/>
<circle cx="130.8" cy="135.6" r="1.4" fill="#00A087"/>
<circle cx="121.5" cy="151.2" r="1.4" fill="#E64B35"/>
<text class="t6" style="fill:#000" transform="translate(121.50,91.90) scale(0.885,1)">−2.262 (0.754, 0.697)</text>
<text class="t6" style="fill:#3C5488" transform="translate(138.30,134.30) scale(0.885,1)">−1.788 (0.680, 0.501)</text>
<text class="t6" style="fill:#00A087" transform="translate(133.80,141.20) scale(0.885,1)">38.850 (0.697, 0.470)</text>
<text class="t6" style="fill:#E64B35" transform="translate(124.60,156.90) scale(0.885,1)">1.298 (0.736, 0.399)</text>
<line x1="19.8" y1="239.00" x2="23.5" y2="239.00" stroke="#555" stroke-width="0.9"/>
<text class="t6" text-anchor="middle" transform="translate(15.60,239.00) rotate(-90) scale(0.905,1)">0.0</text>
<line x1="19.8" y1="195.08" x2="23.5" y2="195.08" stroke="#555" stroke-width="0.9"/>
<text class="t6" text-anchor="middle" transform="translate(15.60,195.08) rotate(-90) scale(0.905,1)">0.2</text>
<line x1="19.8" y1="151.16" x2="23.5" y2="151.16" stroke="#555" stroke-width="0.9"/>
<text class="t6" text-anchor="middle" transform="translate(15.60,151.16) rotate(-90) scale(0.905,1)">0.4</text>
<line x1="19.8" y1="107.24" x2="23.5" y2="107.24" stroke="#555" stroke-width="0.9"/>
<text class="t6" text-anchor="middle" transform="translate(15.60,107.24) rotate(-90) scale(0.905,1)">0.6</text>
<line x1="19.8" y1="63.32" x2="23.5" y2="63.32" stroke="#555" stroke-width="0.9"/>
<text class="t6" text-anchor="middle" transform="translate(15.60,63.32) rotate(-90) scale(0.905,1)">0.8</text>
<line x1="19.8" y1="19.40" x2="23.5" y2="19.40" stroke="#555" stroke-width="0.9"/>
<text class="t6" text-anchor="middle" transform="translate(15.60,19.40) rotate(-90) scale(0.905,1)">1.0</text>
<line x1="59.00" y1="247.5" x2="59.00" y2="251.6" stroke="#555" stroke-width="0.9"/>
<text class="t6" text-anchor="middle" transform="translate(59.00,260.60) scale(0.905,1)">0.0</text>
<line x1="106.50" y1="247.5" x2="106.50" y2="251.6" stroke="#555" stroke-width="0.9"/>
<text class="t6" text-anchor="middle" transform="translate(106.50,260.60) scale(0.905,1)">0.2</text>
<line x1="154.00" y1="247.5" x2="154.00" y2="251.6" stroke="#555" stroke-width="0.9"/>
<text class="t6" text-anchor="middle" transform="translate(154.00,260.60) scale(0.905,1)">0.4</text>
<line x1="201.50" y1="247.5" x2="201.50" y2="251.6" stroke="#555" stroke-width="0.9"/>
<text class="t6" text-anchor="middle" transform="translate(201.50,260.60) scale(0.905,1)">0.6</text>
<line x1="249.00" y1="247.5" x2="249.00" y2="251.6" stroke="#555" stroke-width="0.9"/>
<text class="t6" text-anchor="middle" transform="translate(249.00,260.60) scale(0.905,1)">0.8</text>
<line x1="296.50" y1="247.5" x2="296.50" y2="251.6" stroke="#555" stroke-width="0.9"/>
<text class="t6" text-anchor="middle" transform="translate(296.50,260.60) scale(0.905,1)">1.0</text>
<text class="t6" text-anchor="middle" transform="translate(178.00,270.60) scale(0.905,1)">1 − Specificity</text>
<text class="t6" text-anchor="middle" transform="translate(4.60,129.00) rotate(-90) scale(0.905,1)">Sensitivity</text>
<text class="tb" text-anchor="middle" x="178.0" y="5.9">ROC curve of train</text>
<line x1="211.4" y1="178.40" x2="232.0" y2="178.40" stroke="#000" stroke-width="0.9" stroke-opacity="0.8"/>
<text class="t6" transform="translate(241.60,180.70) scale(0.905,1)">Nomogram: 0.795 (0.771−0.818)</text>
<line x1="211.4" y1="194.43" x2="232.0" y2="194.43" stroke="#E64B35" stroke-width="0.9" stroke-opacity="0.8"/>
<text class="t6" transform="translate(241.60,196.73) scale(0.905,1)">FIB4: 0.579 (0.549−0.609)</text>
<line x1="211.4" y1="210.46" x2="232.0" y2="210.46" stroke="#3C5488" stroke-width="0.9" stroke-opacity="0.8"/>
<text class="t6" transform="translate(241.60,212.76) scale(0.905,1)">NFS: 0.612 (0.583−0.642)</text>
<line x1="211.4" y1="226.49" x2="232.0" y2="226.49" stroke="#00A087" stroke-width="0.9" stroke-opacity="0.8"/>
<text class="t6" transform="translate(241.60,228.79) scale(0.905,1)">CHI3L1: 0.585 (0.554−0.615)</text>
<rect x="375" y="9" width="310" height="1" fill="#e2e2e2"/>
<rect x="375" y="10" width="310" height="1" fill="#727272"/>
<rect x="376" y="11" width="308" height="1" fill="#c4c4c4"/>
<rect x="376" y="246" width="308" height="1" fill="#e6e6e6"/>
<rect x="375" y="247" width="310" height="1" fill="#909090"/>
<rect x="375" y="248" width="310" height="1" fill="#cccccc"/>
<rect x="374" y="11" width="1" height="236" fill="#f0f0f0"/>
<rect x="375" y="10" width="1" height="239" fill="#b6b6b6"/>
<rect x="376" y="10" width="1" height="239" fill="#b6b6b6"/>
<rect x="377" y="11" width="1" height="236" fill="#f0f0f0"/>
<rect x="683" y="10" width="1" height="238" fill="#dadada"/>
<rect x="684" y="10" width="1" height="239" fill="#9a9a9a"/>
<line x1="397.15" y1="252.18" x2="663.15" y2="6.22" stroke="#BEBEBE" stroke-width="1" clip-path="url(#clip352)"/>
<polyline points="411.4,239.0 411.6,228.8 413.2,228.8 414.0,228.8 414.0,228.0 414.9,228.0 415.2,228.0 415.2,226.6 415.7,226.6 415.7,225.2 416.2,225.2 416.2,223.8 416.5,223.8 416.9,223.8 416.9,222.6 417.8,222.6 417.8,221.4 418.2,221.4 418.6,221.4 418.6,219.8 419.4,219.8 419.4,218.1 419.8,218.1 420.1,218.1 420.1,216.4 420.6,216.4 420.6,214.8 421.2,214.8 421.2,213.1 421.5,213.1 421.9,213.1 421.9,211.9 422.7,211.9 422.7,210.7 423.1,210.7 423.5,210.7 423.5,209.4 424.4,209.4 424.4,208.2 424.8,208.2 425.2,208.2 425.2,206.6 426.0,206.6 426.0,204.9 426.4,204.9 426.8,204.9 426.8,203.2 427.7,203.2 427.7,201.6 428.1,201.6 428.5,201.6 428.5,199.9 429.3,199.9 429.3,198.3 429.7,198.3 430.1,198.3 430.1,196.9 431.0,196.9 431.0,195.5 431.4,195.5 432.0,195.5 432.0,193.9 433.2,193.9 433.2,192.4 433.8,192.4 439.4,192.4 440.5,192.4 440.5,190.2 441.6,190.2 442.7,190.2 442.7,188.0 443.8,188.0 444.4,188.0 444.4,186.5 445.4,186.5 445.4,185.0 446.0,185.0 446.6,185.0 446.6,183.6 447.6,183.6 447.6,182.1 448.2,182.1 448.6,182.1 448.6,180.2 449.6,180.2 449.6,178.4 450.0,178.4 450.2,178.4 450.2,177.0 450.7,177.0 450.7,175.6 450.9,175.6 451.1,175.6 451.1,173.8 451.6,173.8 451.6,171.9 451.8,171.9 452.5,171.9 452.5,170.6 453.2,170.6 454.1,170.6 454.1,169.7 455.0,169.7 455.9,169.7 455.9,168.7 456.9,168.7 457.8,168.7 457.8,167.8 458.7,167.8 459.6,167.8 459.6,166.9 460.5,166.9 461.4,166.9 461.4,165.5 462.4,165.5 463.3,165.5 463.3,164.2 464.2,164.2 465.1,164.2 465.1,162.8 466.0,162.8 466.9,162.8 466.9,161.4 467.9,161.4 468.8,161.4 468.8,160.0 469.7,160.0 470.5,160.0 470.5,158.6 471.4,158.6 472.0,158.6 472.0,156.8 472.7,156.8 473.4,156.8 473.4,155.4 474.1,155.4 474.8,155.4 474.8,153.6 475.5,153.6 476.2,153.6 476.2,151.7 476.9,151.7 477.5,151.7 477.5,149.9 478.2,149.9 478.9,149.9 478.9,148.1 479.6,148.1 480.3,148.1 480.3,146.2 481.0,146.2 481.4,146.2 481.4,144.4 481.9,144.4 482.6,144.4 482.6,143.0 483.3,143.0 484.0,143.0 484.0,142.1 484.7,142.1 486.0,141.7 486.7,141.7 486.7,140.3 487.4,140.3 488.1,140.3 488.1,138.9 488.8,138.9 489.2,138.9 489.2,138.0 489.7,138.0 489.9,138.0 489.9,136.7 490.4,136.7 490.4,135.3 490.6,135.3 491.7,135.3 491.7,133.1 492.8,133.1 493.9,133.1 493.9,130.9 495.0,130.9 496.1,130.9 496.1,128.7 497.2,128.7 497.8,128.7 497.8,127.3 498.8,127.3 498.8,126.0 499.4,126.0 500.1,124.4 501.1,124.4 501.1,123.0 502.2,123.0 504.4,123.0 505.5,123.0 505.5,121.5 506.6,121.5 507.7,121.5 507.7,119.3 508.8,119.3 509.9,119.3 509.9,117.1 511.0,117.1 512.1,117.1 512.1,114.9 513.2,114.9 514.3,114.9 514.3,112.7 515.4,112.7 516.5,112.7 516.5,111.2 517.6,111.2 518.7,111.2 518.7,109.8 519.8,109.8 520.9,109.8 520.9,108.3 522.0,108.3 523.1,108.3 523.1,106.8 524.2,106.8 525.3,106.8 525.3,104.7 526.4,104.7 527.5,104.7 527.5,103.2 528.6,103.2 529.7,103.2 529.7,101.0 530.8,101.0 531.9,101.0 531.9,98.8 533.0,98.8 534.1,98.8 534.1,97.3 535.2,97.3 536.3,97.3 536.3,95.1 537.4,95.1 538.5,95.1 538.5,93.1 539.5,93.1 540.6,93.1 540.6,91.6 541.7,91.6 542.8,91.6 542.8,90.2 543.9,90.2 545.0,90.2 545.0,89.0 546.1,89.0 546.8,89.0 546.8,88.5 548.3,88.5 548.3,88.0 549.0,88.0 549.8,88.0 549.8,87.2 551.2,87.2 551.2,86.5 552.0,86.5 553.1,86.5 553.1,85.0 554.2,85.0 556.4,84.3 559.3,83.6 560.0,83.6 560.0,83.2 561.5,83.2 561.5,82.8 562.2,82.8 565.2,82.1 568.1,81.4 569.0,81.4 569.0,80.6 570.0,80.6 571.1,80.6 571.1,79.3 572.3,79.3 583.3,79.3 584.4,79.3 584.4,77.4 585.5,77.4 586.6,77.4 586.6,75.9 587.7,75.9 588.2,75.9 588.2,74.6 589.4,74.6 589.4,73.2 589.9,73.2 590.5,73.2 590.5,71.8 591.5,71.8 591.5,70.5 592.1,70.5 593.2,70.5 593.2,69.0 594.3,69.0 595.0,69.0 595.0,67.5 595.8,67.5 596.5,67.5 596.5,66.0 597.2,66.0 598.0,66.0 598.0,63.8 598.7,63.8 599.5,63.8 599.5,61.5 600.2,61.5 600.9,61.5 600.9,59.3 601.6,59.3 602.4,59.3 602.4,57.8 603.1,57.8 604.0,57.8 604.0,56.6 605.0,56.6 605.8,56.6 605.8,56.0 607.4,56.0 607.4,55.4 608.2,55.4 608.8,55.4 608.8,54.5 610.1,54.5 610.1,53.7 610.7,53.7 611.3,53.7 611.3,52.5 612.5,52.5 612.5,51.3 613.1,51.3 613.7,51.3 613.7,50.5 615.0,50.5 615.0,49.6 615.6,49.6 616.2,49.6 616.2,48.4 617.5,48.4 617.5,47.1 618.1,47.1 618.7,47.1 618.7,45.9 619.9,45.9 619.9,44.7 620.5,44.7 621.1,44.7 621.1,43.0 622.4,43.0 622.4,41.4 623.0,41.4 623.6,41.4 623.6,39.8 624.9,39.8 624.9,38.1 625.5,38.1 626.1,38.1 626.1,37.2 627.4,37.2 627.4,36.4 628.0,36.4 630.4,36.1 632.9,36.1 635.4,36.1 636.2,36.1 636.2,34.0 637.0,34.0 637.4,34.0 637.4,32.8 638.3,32.8 638.3,31.5 638.7,31.5 639.3,31.5 639.3,30.2 640.6,30.2 640.6,29.0 641.2,29.0 641.8,29.0 641.8,27.8 643.0,27.8 643.0,26.5 643.6,26.5 644.2,26.5 644.2,25.7 645.5,25.7 645.5,24.9 646.1,24.9 646.5,24.9 646.5,23.6 647.3,23.6 647.3,22.4 647.7,22.4 648.0,22.4 648.0,20.9 648.6,20.9 648.6,19.4 648.9,19.4" fill="none" stroke="#E64B35" stroke-width="1.0" stroke-linejoin="round" clip-path="url(#clip352)"/>
<polyline points="411.4,239.0 411.6,239.0 411.6,237.2 412.1,237.2 412.1,235.4 412.4,235.4 412.7,235.4 412.7,234.0 413.2,234.0 413.2,232.7 413.8,232.7 413.8,231.3 414.1,231.3 414.4,231.3 414.4,229.9 414.9,229.9 414.9,228.5 415.4,228.5 415.4,227.1 415.7,227.1 416.0,227.1 416.0,225.7 416.5,225.7 416.5,224.4 417.1,224.4 417.1,223.0 417.4,223.0 417.8,223.0 417.8,221.3 418.6,221.3 418.6,219.7 419.0,219.7 419.4,219.7 419.4,218.1 420.3,218.1 420.3,216.4 420.7,216.4 421.1,216.4 421.1,215.2 421.9,215.2 421.9,214.0 422.3,214.0 422.7,214.0 422.7,212.3 423.6,212.3 423.6,210.7 424.0,210.7 424.4,210.7 424.4,209.1 425.2,209.1 425.2,207.4 425.6,207.4 425.9,207.4 425.9,206.0 426.5,206.0 426.5,204.6 427.0,204.6 427.0,203.2 427.3,203.2 427.7,203.2 427.7,201.6 428.5,201.6 428.5,199.9 428.9,199.9 429.3,199.9 429.3,198.2 430.1,198.2 430.1,196.6 430.5,196.6 430.8,196.6 430.8,195.1 431.2,195.1 431.2,193.7 431.5,193.7 432.2,189.6 432.8,189.6 432.8,188.0 433.4,188.0 435.0,188.0 436.1,188.0 436.1,186.5 437.2,186.5 439.4,185.8 440.5,185.8 440.5,183.6 441.6,183.6 442.4,183.6 442.4,181.4 443.1,181.4 443.5,181.4 443.5,179.6 444.1,179.6 444.1,177.7 444.5,177.7 445.2,177.7 445.2,175.5 446.0,175.5 447.5,175.5 448.2,175.5 448.2,173.3 448.9,173.3 449.2,173.3 449.2,171.7 449.7,171.7 449.7,170.1 450.0,170.1 450.7,170.1 450.7,168.7 451.4,168.7 452.0,168.7 452.0,167.4 452.7,167.4 454.6,166.9 456.4,166.9 457.8,166.4 459.2,166.0 459.9,166.0 459.9,165.1 460.5,165.1 461.2,165.1 461.2,164.2 461.9,164.2 462.8,164.2 462.8,163.2 463.7,163.2 464.6,163.2 464.6,161.9 465.6,161.9 466.2,161.9 466.2,160.5 466.9,160.5 467.6,160.5 467.6,159.1 468.3,159.1 469.0,159.1 469.0,158.0 469.7,158.0 470.1,158.0 470.1,157.2 470.5,157.2 470.9,157.2 470.9,155.9 471.4,155.9 472.0,155.9 472.0,154.0 472.7,154.0 473.4,154.0 473.4,152.2 474.1,152.2 474.6,152.2 474.6,149.9 475.0,149.9 475.5,149.9 475.5,148.1 476.0,148.1 476.4,148.1 476.4,146.7 476.9,146.7 477.5,146.7 477.5,145.8 478.2,145.8 478.7,145.8 478.7,144.9 479.2,144.9 479.9,144.9 479.9,143.5 480.5,143.5 480.9,143.5 480.9,142.6 481.4,142.6 482.1,142.6 482.1,141.7 482.8,141.7 483.2,141.7 483.2,139.8 483.7,139.8 484.2,139.8 484.2,138.5 484.7,138.5 485.1,138.5 485.1,137.5 485.5,137.5 486.2,137.5 486.2,135.3 487.0,135.3 487.7,135.3 487.7,133.8 488.4,133.8 489.5,133.8 489.5,131.6 490.6,131.6 492.8,130.9 493.6,130.9 493.6,129.4 494.3,129.4 495.1,129.4 495.1,127.9 495.8,127.9 496.9,127.9 496.9,125.7 498.0,125.7 499.0,125.7 499.0,124.4 500.0,124.4 502.2,123.7 504.4,123.0 505.5,123.0 505.5,121.5 506.6,121.5 507.7,121.5 507.7,120.0 508.8,120.0 511.0,119.3 512.1,119.3 512.1,117.8 513.2,117.8 513.6,117.8 513.6,116.3 514.3,116.3 514.3,114.9 514.7,114.9 514.9,114.9 514.9,113.4 515.4,113.4 515.4,112.0 515.9,112.0 515.9,110.5 516.1,110.5 516.9,110.5 516.9,108.3 517.6,108.3 519.8,107.6 520.9,107.6 520.9,106.1 522.0,106.1 522.7,106.1 522.7,103.9 523.4,103.9 523.8,103.9 523.8,102.5 524.5,102.5 524.5,101.0 524.9,101.0 525.6,101.0 525.6,99.5 526.4,99.5 527.1,99.5 527.1,97.3 527.8,97.3 528.5,97.3 528.5,95.1 529.3,95.1 530.0,95.1 530.0,92.9 530.8,92.9 531.5,92.9 531.5,91.5 532.2,91.5 532.7,91.5 532.7,89.9 533.5,89.9 533.5,88.3 534.0,88.3 535.0,88.3 535.0,86.5 535.9,86.5 536.6,86.5 536.6,85.0 537.3,85.0 538.0,85.0 538.0,83.6 538.8,83.6 539.9,83.6 539.9,82.1 541.0,82.1 543.2,81.7 545.4,81.4 549.8,81.4 552.0,81.1 554.2,80.6 556.4,79.9 557.1,79.9 557.1,78.4 557.8,78.4 558.2,78.4 558.2,77.0 558.9,77.0 558.9,75.5 559.3,75.5 560.0,75.5 560.0,73.3 560.8,73.3 561.5,73.3 561.5,71.8 562.2,71.8 563.3,71.8 563.3,69.7 564.4,69.7 565.1,69.7 565.1,67.5 565.9,67.5 566.6,67.5 566.6,66.5 567.4,66.5 568.4,66.5 568.4,64.9 569.4,64.9 571.6,64.2 572.7,64.2 572.7,63.4 573.8,63.4 574.9,63.4 574.9,62.0 576.0,62.0 577.1,62.0 577.1,60.5 578.2,60.5 580.4,59.8 582.6,59.8 585.5,59.8 592.1,59.8 592.9,59.8 592.9,57.6 593.6,57.6 594.3,57.6 594.3,55.4 595.0,55.4 597.2,54.7 598.3,54.7 598.3,53.9 599.4,53.9 600.1,53.9 600.1,52.5 600.9,52.5 601.6,52.5 601.6,50.3 602.4,50.3 603.1,50.3 603.1,48.8 603.8,48.8 604.3,48.8 604.3,47.5 605.2,47.5 605.2,46.3 605.7,46.3 606.3,46.3 606.3,45.9 607.6,45.9 607.6,45.5 608.2,45.5 611.5,45.5 612.1,45.5 612.1,44.6 613.4,44.6 613.4,43.8 614.0,43.8 614.6,43.8 614.6,42.6 615.8,42.6 615.8,41.4 616.4,41.4 619.7,41.4 620.3,41.4 620.3,41.0 621.6,41.0 621.6,40.5 622.2,40.5 622.6,40.5 622.6,39.3 623.4,39.3 623.4,38.1 623.8,38.1 624.4,38.1 624.4,37.2 625.7,37.2 625.7,36.4 626.3,36.4 626.9,36.4 626.9,35.2 628.2,35.2 628.2,34.0 628.8,34.0 629.2,34.0 629.2,32.8 630.0,32.8 630.0,31.5 630.4,31.5 631.0,31.5 631.0,31.1 632.3,31.1 632.3,30.7 632.9,30.7 633.7,30.7 633.7,29.9 635.4,29.9 635.4,29.0 636.2,29.0 636.8,29.0 636.8,28.2 638.1,28.2 638.1,27.4 638.7,27.4 639.3,27.4 639.3,26.5 640.6,26.5 640.6,25.7 641.2,25.7 641.8,25.7 641.8,24.9 643.0,24.9 643.0,24.1 643.6,24.1 644.2,24.1 644.2,22.9 645.5,22.9 645.5,21.6 646.1,21.6 646.9,21.6 646.9,19.9 647.7,19.9 648.9,19.4" fill="none" stroke="#3C5488" stroke-width="1.0" stroke-linejoin="round" clip-path="url(#clip352)"/>
<polyline points="411.4,239.0 411.6,228.8 412.0,228.8 412.0,227.6 412.8,227.6 412.8,226.3 413.2,226.3 413.6,226.3 413.6,224.7 414.5,224.7 414.5,223.0 414.9,223.0 415.3,223.0 415.3,221.3 416.1,221.3 416.1,219.7 416.5,219.7 416.9,219.7 416.9,218.1 417.8,218.1 417.8,216.4 418.2,216.4 418.5,216.4 418.5,214.8 419.0,214.8 419.0,213.1 419.5,213.1 419.5,211.5 419.8,211.5 420.2,211.5 420.2,209.8 421.1,209.8 421.1,208.2 421.5,208.2 421.9,208.2 421.9,206.9 422.7,206.9 422.7,205.7 423.1,205.7 423.4,205.7 423.4,204.3 424.0,204.3 424.0,203.0 424.5,203.0 424.5,201.6 424.8,201.6 425.2,201.6 425.2,199.9 426.0,199.9 426.0,198.3 426.4,198.3 427.0,198.3 427.0,197.1 428.3,197.1 428.3,195.8 428.9,195.8 429.5,195.8 429.5,193.9 430.8,193.9 430.8,192.0 431.4,192.0 431.8,192.0 431.8,190.8 432.6,190.8 432.6,189.6 433.0,189.6 433.5,189.6 433.5,187.7 434.5,187.7 434.5,185.8 435.0,185.8 436.1,185.8 436.1,184.3 437.2,184.3 439.4,184.3 440.1,184.3 440.1,182.8 440.9,182.8 442.0,182.8 442.0,181.4 443.1,181.4 443.8,181.4 443.8,179.2 444.5,179.2 445.2,179.2 445.2,177.0 446.0,177.0 446.8,177.0 446.8,175.5 447.5,175.5 448.9,175.5 449.4,175.5 449.4,174.7 450.0,174.7 450.4,174.7 450.4,173.1 451.4,173.1 451.4,171.5 451.8,171.5 452.0,171.5 452.0,170.1 452.5,170.1 452.5,168.8 453.0,168.8 453.0,167.4 453.5,167.4 453.5,166.0 453.7,166.0 454.0,166.0 454.0,164.6 454.7,164.6 454.7,163.2 455.0,163.2 455.8,163.2 455.8,161.9 456.6,161.9 458.2,161.4 460.1,161.0 461.0,161.0 461.0,160.0 461.9,160.0 462.8,160.0 462.8,159.1 463.7,159.1 464.6,159.1 464.6,158.2 465.6,158.2 466.5,158.2 466.5,157.0 467.4,157.0 468.3,157.0 468.3,155.5 469.2,155.5 469.6,155.5 469.6,154.0 470.0,154.0 470.9,154.0 470.9,152.7 471.8,152.7 472.5,152.7 472.5,150.8 473.2,150.8 473.9,150.8 473.9,149.9 474.6,149.9 476.0,149.4 476.6,149.4 476.6,148.1 477.3,148.1 478.0,148.1 478.0,146.2 478.7,146.2 479.4,146.2 479.4,145.3 480.1,145.3 481.4,144.9 482.8,144.4 483.5,144.4 483.5,143.5 484.2,143.5 485.6,143.0 486.9,143.0 487.6,143.0 487.6,142.1 488.3,142.1 490.1,141.7 491.5,141.2 492.2,141.2 492.2,140.3 492.9,140.3 493.9,140.3 493.9,139.2 495.0,139.2 495.8,138.9 496.9,138.9 496.9,137.5 498.0,137.5 499.1,137.5 499.1,135.3 500.2,135.3 501.3,135.3 501.3,133.1 502.4,133.1 503.0,133.1 503.0,132.3 504.4,132.3 504.4,131.6 505.0,131.6 505.8,131.6 505.8,130.0 506.6,130.0 507.2,130.0 507.2,128.7 508.2,128.7 508.2,127.4 508.8,127.4 509.9,127.4 509.9,125.2 511.0,125.2 512.1,125.2 512.1,123.0 513.2,123.0 514.3,123.0 514.3,120.8 515.4,120.8 516.1,120.8 516.1,118.6 516.8,118.6 517.5,118.6 517.5,116.4 518.3,116.4 519.4,116.4 519.4,114.9 520.5,114.9 521.6,114.9 521.6,113.4 522.7,113.4 523.1,113.4 523.1,112.0 523.8,112.0 523.8,110.5 524.2,110.5 524.6,110.5 524.6,109.0 525.2,109.0 525.2,107.6 525.6,107.6 526.7,107.6 526.7,106.1 527.8,106.1 528.9,106.1 528.9,104.7 530.0,104.7 531.1,104.7 531.1,102.5 532.2,102.5 533.3,102.5 533.3,100.3 534.4,100.3 535.5,100.3 535.5,98.1 536.6,98.1 537.7,98.1 537.7,95.9 538.8,95.9 539.9,95.9 539.9,94.0 541.0,94.0 541.4,94.0 541.4,92.8 542.1,92.8 542.1,91.6 542.5,91.6 543.2,91.6 543.2,90.2 543.9,90.2 545.0,90.2 545.0,88.7 546.1,88.7 547.2,88.7 547.2,87.2 548.3,87.2 549.4,87.2 549.4,85.8 550.5,85.8 551.6,85.8 551.6,84.3 552.7,84.3 553.5,84.3 553.5,82.8 554.2,82.8 554.9,82.8 554.9,81.4 555.6,81.4 556.7,81.4 556.7,79.9 557.8,79.9 558.9,79.9 558.9,78.4 560.0,78.4 561.1,78.4 561.1,77.0 562.2,77.0 563.4,77.0 563.4,75.8 564.5,75.8 565.1,75.8 565.1,75.1 566.4,75.1 566.4,74.4 567.0,74.4 567.6,74.4 567.6,73.6 568.8,73.6 568.8,72.8 569.4,72.8 570.5,72.8 570.5,71.5 571.6,71.5 572.7,71.5 572.7,69.3 573.8,69.3 574.9,69.3 574.9,67.8 576.0,67.8 576.5,67.8 576.5,66.3 577.7,66.3 577.7,64.9 578.2,64.9 578.6,64.9 578.6,63.5 579.3,63.5 579.3,62.0 579.7,62.0 580.1,62.0 580.1,60.5 580.8,60.5 580.8,59.0 581.1,59.0 583.3,59.0 585.5,58.3 588.4,57.6 589.5,57.6 589.5,56.8 590.6,56.8 592.8,56.8 594.3,56.1 596.5,55.4 598.7,54.7 599.8,54.7 599.8,53.2 600.9,53.2 601.6,53.2 601.6,51.7 602.4,51.7 603.1,51.7 603.1,50.3 603.8,50.3 604.4,50.3 604.4,48.8 605.0,48.8 605.6,48.8 605.6,48.4 606.8,48.4 606.8,48.0 607.4,48.0 608.0,48.0 608.0,47.5 609.2,47.5 609.2,47.1 609.8,47.1 610.6,47.1 610.6,46.7 612.3,46.7 612.3,46.3 613.1,46.3 613.9,46.3 613.9,45.5 615.6,45.5 615.6,44.7 616.4,44.7 617.2,44.7 617.2,44.2 618.9,44.2 618.9,43.8 619.7,43.8 620.3,43.8 620.3,42.6 621.6,42.6 621.6,41.4 622.2,41.4 622.8,41.4 622.8,39.8 624.1,39.8 624.1,38.1 624.7,38.1 625.5,38.1 625.5,36.5 627.2,36.5 627.2,34.8 628.0,34.8 628.6,34.8 628.6,33.5 629.8,33.5 629.8,32.3 630.4,32.3 631.2,32.3 631.2,31.9 632.9,31.9 632.9,31.5 633.7,31.5 634.5,31.5 634.5,31.1 636.2,31.1 636.2,30.7 637.0,30.7 637.6,30.7 637.6,29.9 638.9,29.9 638.9,29.0 639.5,29.0 640.1,29.0 640.1,27.8 641.4,27.8 641.4,26.5 642.0,26.5 642.6,26.5 642.6,25.7 643.8,25.7 643.8,24.9 644.4,24.9 644.8,24.9 644.8,23.6 645.7,23.6 645.7,22.4 646.1,22.4 646.9,22.4 646.9,20.8 647.7,20.8 648.3,20.8 648.3,19.4 648.9,19.4" fill="none" stroke="#00A087" stroke-width="1.0" stroke-linejoin="round" clip-path="url(#clip352)"/>
<polyline points="411.4,239.0 411.6,228.0 412.1,225.3 412.2,225.3 412.2,223.7 412.3,223.7 412.3,222.2 412.4,222.2 412.4,220.6 412.5,220.6 412.5,219.0 412.6,219.0 412.6,217.5 412.7,217.5 412.7,215.9 412.8,215.9 412.8,214.3 412.9,214.3 412.9,212.8 413.0,212.8 413.0,211.2 413.1,211.2 413.7,201.1 413.8,201.1 413.8,199.4 413.9,199.4 413.9,197.7 414.0,197.7 414.0,196.1 414.2,196.1 414.2,194.4 414.3,194.4 414.3,192.7 414.4,192.7 414.4,191.0 414.5,191.0 414.6,191.0 414.6,189.5 414.8,189.5 414.8,188.0 415.0,188.0 415.0,186.5 415.2,186.5 415.2,185.0 415.3,185.0 415.6,185.0 415.6,183.2 416.1,183.2 416.1,181.5 416.3,181.5 416.5,181.5 416.5,180.2 416.9,180.2 416.9,179.0 417.1,179.0 417.7,176.6 417.9,176.6 417.9,174.8 418.3,174.8 418.3,173.0 418.5,173.0 418.8,173.0 418.8,171.5 419.4,171.5 419.4,170.0 419.7,170.0 420.4,170.0 420.4,167.8 421.2,167.8 421.5,167.8 421.5,166.5 422.1,166.5 422.1,165.2 422.4,165.2 422.9,163.4 424.4,162.7 424.9,162.7 424.9,160.5 425.3,160.5 425.8,160.5 425.8,158.3 426.3,158.3 428.5,157.6 429.1,157.6 429.1,155.4 429.7,155.4 430.0,152.5 430.3,149.5 430.7,146.6 431.4,146.6 431.4,145.1 432.2,145.1 432.9,145.1 432.9,143.7 433.6,143.7 434.4,143.7 434.4,142.2 435.1,142.2 435.5,142.2 435.5,140.0 435.9,140.0 436.2,140.0 436.2,138.7 436.9,138.7 436.9,137.4 437.3,137.4 437.9,137.4 437.9,135.2 438.5,135.2 439.1,133.0 439.5,130.0 440.2,130.0 440.2,128.6 441.0,128.6 441.8,128.6 441.8,126.4 442.5,126.4 443.0,126.4 443.0,124.2 443.5,124.2 443.9,122.0 444.6,122.0 444.6,120.5 445.4,120.5 446.1,120.5 446.1,119.0 446.8,119.0 447.2,119.0 447.2,116.8 447.6,116.8 449.0,116.1 451.2,116.1 451.6,116.1 451.6,114.7 452.0,114.7 452.7,114.7 452.7,113.2 453.4,113.2 454.1,113.2 454.1,111.7 454.9,111.7 455.6,111.7 455.6,110.3 456.4,110.3 457.1,110.3 457.1,108.8 457.8,108.8 458.6,108.8 458.6,106.6 459.3,106.6 460.0,104.4 460.4,104.4 460.4,102.2 460.8,102.2 461.4,102.2 461.4,100.7 461.9,100.7 462.5,100.0 463.1,100.0 463.1,98.1 463.8,98.1 464.6,98.1 464.6,96.6 465.3,96.6 466.0,94.4 466.7,93.0 467.4,93.0 467.4,90.8 468.2,90.8 468.9,88.6 469.3,88.6 469.3,87.1 469.7,87.1 470.4,87.1 470.4,84.9 471.1,84.9 471.9,84.9 471.9,83.4 472.6,83.4 473.3,81.2 473.8,79.0 474.4,79.0 474.4,77.6 474.9,77.6 477.0,77.3 478.4,76.8 479.1,76.8 479.1,75.4 479.9,75.4 480.6,75.4 480.6,73.9 481.4,73.9 482.1,73.9 482.1,71.7 482.8,71.7 484.3,71.0 486.5,71.0 488.0,70.3 488.5,70.3 488.5,68.1 489.0,68.1 489.4,65.9 489.8,65.9 489.8,63.7 490.2,63.7 491.6,63.2 498.1,63.2 498.5,60.8 498.8,58.6 499.5,57.1 500.2,57.1 500.2,56.1 501.0,56.1 503.2,55.6 505.4,55.6 506.1,55.6 506.1,54.2 506.8,54.2 507.6,54.2 507.6,53.1 508.3,53.1 509.1,53.1 509.1,51.2 509.8,51.2 510.5,49.0 511.2,49.0 511.2,47.9 512.0,47.9 513.4,47.3 525.2,47.3 525.8,47.3 525.8,46.1 526.3,46.1 536.8,46.1 537.5,46.1 537.5,44.4 538.3,44.4 539.0,44.4 539.0,42.6 539.7,42.6 540.8,42.6 540.8,40.7 541.9,40.7 543.0,40.7 543.0,39.2 544.1,39.2 545.2,39.2 545.2,37.8 546.3,37.8 547.4,37.8 547.4,36.3 548.5,36.3 550.0,35.9 552.9,35.9 554.4,35.3 556.6,34.8 558.8,34.1 561.7,33.4 563.9,32.9 564.6,32.9 564.6,31.2 565.4,31.2 566.1,31.2 566.1,29.0 566.8,29.0 567.4,29.0 567.4,28.0 568.0,28.0 570.0,27.4 570.7,27.4 570.7,26.5 572.0,26.5 572.0,25.6 572.7,25.6 573.7,25.6 573.7,24.3 574.6,24.3 578.2,23.7 581.0,23.2 597.3,23.0 598.0,21.7 616.6,21.6 617.3,21.6 617.3,19.4 618.0,19.4 648.9,19.4" fill="none" stroke="#000" stroke-width="1.0" stroke-linejoin="round" clip-path="url(#clip352)"/>
<circle cx="474.9" cy="77.6" r="1.4" fill="#000"/>
<circle cx="533.8" cy="88.2" r="1.4" fill="#3C5488"/>
<circle cx="456.6" cy="162.2" r="1.4" fill="#00A087"/>
<circle cx="500.1" cy="124.4" r="1.4" fill="#E64B35"/>
<text class="t6" style="fill:#000" transform="translate(478.10,83.10) scale(0.885,1)">−2.310 (0.732, 0.734)</text>
<text class="t6" style="fill:#3C5488" transform="translate(536.90,94.00) scale(0.885,1)">−0.342 (0.484, 0.686)</text>
<text class="t6" style="fill:#00A087" transform="translate(458.90,167.70) scale(0.885,1)">48.250 (0.809, 0.349)</text>
<text class="t6" style="fill:#E64B35" transform="translate(502.80,129.90) scale(0.885,1)">1.124 (0.626, 0.521)</text>
<line x1="371.8" y1="239.00" x2="375.5" y2="239.00" stroke="#555" stroke-width="0.9"/>
<text class="t6" text-anchor="middle" transform="translate(367.60,239.00) rotate(-90) scale(0.905,1)">0.0</text>
<line x1="371.8" y1="195.08" x2="375.5" y2="195.08" stroke="#555" stroke-width="0.9"/>
<text class="t6" text-anchor="middle" transform="translate(367.60,195.08) rotate(-90) scale(0.905,1)">0.2</text>
<line x1="371.8" y1="151.16" x2="375.5" y2="151.16" stroke="#555" stroke-width="0.9"/>
<text class="t6" text-anchor="middle" transform="translate(367.60,151.16) rotate(-90) scale(0.905,1)">0.4</text>
<line x1="371.8" y1="107.24" x2="375.5" y2="107.24" stroke="#555" stroke-width="0.9"/>
<text class="t6" text-anchor="middle" transform="translate(367.60,107.24) rotate(-90) scale(0.905,1)">0.6</text>
<line x1="371.8" y1="63.32" x2="375.5" y2="63.32" stroke="#555" stroke-width="0.9"/>
<text class="t6" text-anchor="middle" transform="translate(367.60,63.32) rotate(-90) scale(0.905,1)">0.8</text>
<line x1="371.8" y1="19.40" x2="375.5" y2="19.40" stroke="#555" stroke-width="0.9"/>
<text class="t6" text-anchor="middle" transform="translate(367.60,19.40) rotate(-90) scale(0.905,1)">1.0</text>
<line x1="411.40" y1="247.5" x2="411.40" y2="251.6" stroke="#555" stroke-width="0.9"/>
<text class="t6" text-anchor="middle" transform="translate(411.40,260.60) scale(0.905,1)">0.0</text>
<line x1="458.90" y1="247.5" x2="458.90" y2="251.6" stroke="#555" stroke-width="0.9"/>
<text class="t6" text-anchor="middle" transform="translate(458.90,260.60) scale(0.905,1)">0.2</text>
<line x1="506.40" y1="247.5" x2="506.40" y2="251.6" stroke="#555" stroke-width="0.9"/>
<text class="t6" text-anchor="middle" transform="translate(506.40,260.60) scale(0.905,1)">0.4</text>
<line x1="553.90" y1="247.5" x2="553.90" y2="251.6" stroke="#555" stroke-width="0.9"/>
<text class="t6" text-anchor="middle" transform="translate(553.90,260.60) scale(0.905,1)">0.6</text>
<line x1="601.40" y1="247.5" x2="601.40" y2="251.6" stroke="#555" stroke-width="0.9"/>
<text class="t6" text-anchor="middle" transform="translate(601.40,260.60) scale(0.905,1)">0.8</text>
<line x1="648.90" y1="247.5" x2="648.90" y2="251.6" stroke="#555" stroke-width="0.9"/>
<text class="t6" text-anchor="middle" transform="translate(648.90,260.60) scale(0.905,1)">1.0</text>
<text class="t6" text-anchor="middle" transform="translate(530.50,270.60) scale(0.905,1)">1 − Specificity</text>
<text class="t6" text-anchor="middle" transform="translate(357.10,129.00) rotate(-90) scale(0.905,1)">Sensitivity</text>
<text class="tb" text-anchor="middle" x="530.5" y="5.9">ROC curve of test</text>
<line x1="563.9" y1="178.40" x2="584.5" y2="178.40" stroke="#000" stroke-width="0.9" stroke-opacity="0.8"/>
<text class="t6" transform="translate(594.10,180.70) scale(0.905,1)">Nomogram: 0.802 (0.769−0.835)</text>
<line x1="563.9" y1="194.43" x2="584.5" y2="194.43" stroke="#E64B35" stroke-width="0.9" stroke-opacity="0.8"/>
<text class="t6" transform="translate(594.10,196.73) scale(0.905,1)">FIB4: 0.573 (0.523−0.622)</text>
<line x1="563.9" y1="210.46" x2="584.5" y2="210.46" stroke="#3C5488" stroke-width="0.9" stroke-opacity="0.8"/>
<text class="t6" transform="translate(594.10,212.76) scale(0.905,1)">NFS: 0.601 (0.553−0.648)</text>
<line x1="563.9" y1="226.49" x2="584.5" y2="226.49" stroke="#00A087" stroke-width="0.9" stroke-opacity="0.8"/>
<text class="t6" transform="translate(594.10,228.79) scale(0.905,1)">CHI3L1: 0.588 (0.539−0.636)</text>
</svg>
</body></html>
